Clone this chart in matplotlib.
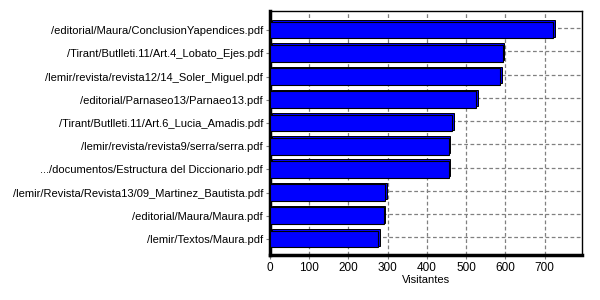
import matplotlib
matplotlib.use("Agg")
import matplotlib.pyplot as plt
import numpy as np

plt.rcParams['font.family'] = ['Liberation Sans', 'DejaVu Sans']

# data
files = ['/editorial/Maura/ConclusionYapendices.pdf',
         '/Tirant/Butlleti.11/Art.4_Lobato_Ejes.pdf',
         '/lemir/revista/revista12/14_Soler_Miguel.pdf',
         '/editorial/Parnaseo13/Parnaeo13.pdf',
         '/Tirant/Butlleti.11/Art.6_Lucia_Amadis.pdf',
         '/lemir/revista/revista9/serra/serra.pdf',
         '.../documentos/Estructura del Diccionario.pdf',
         '/lemir/Revista/Revista13/09_Martinez_Bautista.pdf',
         '/editorial/Maura/Maura.pdf',
         '/lemir/Textos/Maura.pdf']
visitas = [721, 593, 587, 525, 464, 455, 455, 294, 290, 276]
xticks = [0, 100, 200, 300, 400, 500, 600, 700]

fig = plt.figure(figsize=(6, 3), dpi=100)
ax = fig.add_axes([0.45, 0.15, 0.52, 0.813])

pos = np.arange(len(files))

# grid behind bars
for t in xticks[1:]:
    ax.axvline(t, color='#808080', ls=(0, (3, 2)), lw=0.9, zorder=0)
for p in pos:
    ax.axhline(p - 0.08, color='#808080', ls=(0, (3, 2)), lw=0.9, zorder=0)

# 3d look: back face then front face
ax.barh(pos - 0.07, visitas, left=4, height=0.72, color='#0000ff',
        edgecolor='black', lw=0.7, zorder=2)
ax.barh(pos, visitas, height=0.72, color='#0000ff',
        edgecolor='black', lw=0.8, zorder=3)

ax.set_xlim(0, 795)
ax.set_ylim(9.69, -0.82)
ax.set_yticks(pos)
ax.set_yticklabels(files, fontsize=8)
ax.set_xticks(xticks)
ax.set_xticklabels([str(t) for t in xticks], fontsize=8.5)
ax.set_xlabel('Visitantes', fontsize=8, labelpad=1)
ax.tick_params(axis='both', color='#808080', length=3, width=0.8, pad=2)

ax.spines['left'].set_linewidth(2.5)
ax.spines['bottom'].set_linewidth(2.5)
ax.spines['top'].set_linewidth(1)
ax.spines['right'].set_linewidth(1)

fig.savefig('out.png', dpi=100)
